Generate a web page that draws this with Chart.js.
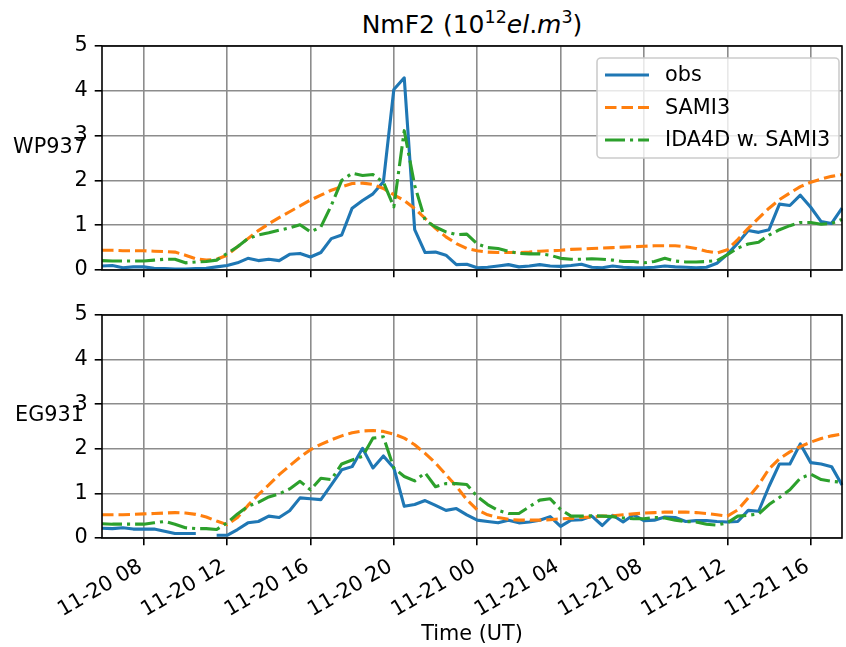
<!DOCTYPE html>
<html>
<head>
<meta charset="utf-8">
<script src="https://cdn.jsdelivr.net/npm/chart.js@4.4.0/dist/chart.umd.min.js"></script>
<style>
  body { margin: 0; background: #fff; }
  #wrap { position: relative; width: 846px; height: 647px; font-family: "DejaVu Sans", sans-serif; color: #000; }
  canvas { position: absolute; left: 0; }
  #topCanvas { top: 0; }
  #bottomCanvas { top: 290px; }
  .ylbl { position: absolute; left: 0; width: 99px; text-align: center; font-size: 20.8px; line-height: 24.2px; white-space: nowrap; }
  #title { position: absolute; left: 222px; width: 500px; top: 10px; text-align: center; font-size: 25px; line-height: 30px; white-space: nowrap; }
  #title sup { font-size: 70%; position: relative; top: -0.55em; vertical-align: baseline; line-height: 0; }
</style>
</head>
<body>
<div id="wrap">
  <div id="title">NmF2 (10<sup>12</sup><i>el</i>.<i>m</i><sup>3</sup>)</div>
  <canvas id="topCanvas" width="846" height="290"></canvas>
  <canvas id="bottomCanvas" width="846" height="357"></canvas>
  <div class="ylbl" style="top:134px">WP937</div>
  <div class="ylbl" style="top:402px">EG931</div>
</div>
<script>
// half-hourly samples, 11-20 06:00 .. 11-21 17:30
const timeLabels = [];
for (let i = 0; i < 72; i++) {
  const h = 6 + i * 0.5;
  const day = h >= 24 ? "11-21" : "11-20";
  const hh = String(Math.floor(h % 24)).padStart(2, "0");
  timeLabels.push(day + " " + hh + (i % 2 ? ":30" : ":00"));
}
const tickLabels = ["11-20 08", "11-20 12", "11-20 16", "11-20 20", "11-21 00",
                    "11-21 04", "11-21 08", "11-21 12", "11-21 16"];

// WP937
const wpObs = [
  0.09, 0.10, 0.05, 0.07, 0.07, 0.04, 0.03, 0.02, 0.02, 0.03, 0.04, 0.07,
  0.10, 0.16, 0.26, 0.21, 0.24, 0.21, 0.35, 0.37, 0.29, 0.39, 0.70, 0.78,
  1.38, 1.55, 1.70, 1.97, 4.03, 4.29, 0.90, 0.39, 0.40, 0.33, 0.12, 0.13,
  0.05, 0.06, 0.09, 0.12, 0.07, 0.09, 0.12, 0.09, 0.08, 0.10, 0.13, 0.06,
  0.05, 0.09, 0.06, 0.05, 0.05, 0.06, 0.09, 0.07, 0.06, 0.05, 0.06, 0.15,
  0.35, 0.60, 0.88, 0.84, 0.90, 1.47, 1.44, 1.67, 1.40, 1.08, 1.04, 1.38
];
const wpSami = [
  0.44, 0.44, 0.43, 0.43, 0.43, 0.42, 0.41, 0.40, 0.33, 0.25, 0.22, 0.24,
  0.33, 0.52, 0.70, 0.88, 1.03, 1.17, 1.30, 1.43, 1.56, 1.67, 1.78, 1.86,
  1.93, 1.94, 1.91, 1.82, 1.68, 1.55, 1.37, 1.15, 0.93, 0.74, 0.59, 0.48,
  0.43, 0.40, 0.39, 0.39, 0.39, 0.40, 0.42, 0.43, 0.44, 0.46, 0.47, 0.48,
  0.49, 0.50, 0.51, 0.52, 0.53, 0.54, 0.54, 0.54, 0.52, 0.48, 0.42, 0.38,
  0.45, 0.68, 0.93, 1.16, 1.38, 1.57, 1.72, 1.86, 1.96, 2.03, 2.09, 2.13
];
const wpIda = [
  0.21, 0.20, 0.20, 0.20, 0.20, 0.22, 0.24, 0.24, 0.16, 0.18, 0.19, 0.22,
  0.37, 0.52, 0.70, 0.78, 0.83, 0.89, 0.94, 1.01, 0.85, 0.96, 1.44, 2.00,
  2.16, 2.11, 2.13, 1.96, 1.41, 3.11, 1.89, 1.11, 0.96, 0.85, 0.79, 0.80,
  0.58, 0.50, 0.48, 0.42, 0.37, 0.36, 0.36, 0.33, 0.26, 0.24, 0.24, 0.25,
  0.24, 0.22, 0.19, 0.19, 0.16, 0.19, 0.26, 0.20, 0.18, 0.18, 0.19, 0.21,
  0.34, 0.49, 0.58, 0.62, 0.78, 0.90, 0.99, 1.06, 1.06, 1.02, 1.04, 1.13
];

// EG931
const egObs = [
  0.22, 0.21, 0.23, 0.20, 0.20, 0.20, 0.15, 0.10, 0.10, 0.10, null, 0.06,
  0.06, 0.19, 0.34, 0.37, 0.49, 0.46, 0.61, 0.90, 0.88, 0.86, 1.19, 1.53,
  1.60, 2.01, 1.57, 1.84, 1.57, 0.71, 0.75, 0.84, 0.73, 0.62, 0.66, 0.52,
  0.40, 0.37, 0.34, 0.40, 0.34, 0.36, 0.40, 0.48, 0.26, 0.40, 0.41, 0.49,
  0.28, 0.51, 0.36, 0.52, 0.39, 0.40, 0.47, 0.46, 0.37, 0.39, 0.39, 0.37,
  0.36, 0.37, 0.62, 0.60, 1.16, 1.66, 1.66, 2.11, 1.69, 1.66, 1.60, 1.19
];
const egSami = [
  0.52, 0.52, 0.52, 0.53, 0.54, 0.55, 0.56, 0.57, 0.56, 0.53, 0.47, 0.38,
  0.30, 0.46, 0.73, 0.97, 1.19, 1.42, 1.62, 1.81, 1.98, 2.10, 2.20, 2.29,
  2.36, 2.40, 2.41, 2.39, 2.33, 2.24, 2.09, 1.90, 1.68, 1.42, 1.16, 0.86,
  0.63, 0.52, 0.46, 0.42, 0.40, 0.40, 0.40, 0.41, 0.43, 0.44, 0.46, 0.47,
  0.49, 0.50, 0.52, 0.54, 0.56, 0.57, 0.58, 0.58, 0.58, 0.57, 0.55, 0.52,
  0.49, 0.63, 0.90, 1.19, 1.55, 1.78, 1.93, 2.05, 2.15, 2.23, 2.29, 2.33
];
const egIda = [
  0.32, 0.31, 0.31, 0.31, 0.31, 0.34, 0.37, 0.31, 0.23, 0.21, 0.21, 0.19,
  0.34, 0.54, 0.71, 0.80, 0.92, 0.99, 1.10, 1.27, 1.08, 1.34, 1.31, 1.66,
  1.75, 1.83, 2.24, 2.27, 1.57, 1.38, 1.28, 1.46, 1.15, 1.22, 1.22, 1.20,
  0.93, 0.75, 0.62, 0.55, 0.55, 0.70, 0.85, 0.88, 0.64, 0.49, 0.49, 0.50,
  0.49, 0.48, 0.45, 0.43, 0.43, 0.46, 0.45, 0.40, 0.37, 0.36, 0.31, 0.29,
  0.34, 0.49, 0.51, 0.54, 0.75, 0.91, 1.08, 1.34, 1.43, 1.31, 1.27, 1.25
];

Chart.defaults.font.family = "DejaVu Sans";
Chart.defaults.color = "#000";

const LW = 3.1;
const gridColor = "#8c8c8c";
const fontSize = 20.8;

function makeSets(obs, sami, ida) {
  return [
    { label: "obs", data: obs, borderColor: "#1f77b4", borderDash: [], order: 3 },
    { label: "SAMI3", data: sami, borderColor: "#ff7f0e", borderDash: [11.5, 5], order: 2 },
    { label: "IDA4D w. SAMI3", data: ida, borderColor: "#2ca02c", borderDash: [20, 5, 3.1, 5], order: 1 }
  ].map(d => ({
    ...d,
    borderWidth: LW,
    pointRadius: 0,
    tension: 0,
    fill: false,
    spanGaps: false,
    borderJoinStyle: "round"
  }));
}

function scalesFor(showLabels) {
  const grid = { color: gridColor, lineWidth: 1.6, tickColor: "#000", tickWidth: 1.6, tickLength: 7.3, drawTicks: true };
  return {
    x: {
      type: "category",
      offset: false,
      grid: grid,
      border: { display: false },
      ticks: {
        display: showLabels, autoSkip: false, minRotation: 30, maxRotation: 30,
        padding: 9, labelOffset: -3, font: { size: fontSize },
        callback: v => timeLabels[v].slice(0, 8)
      },
      afterBuildTicks: s => {
        s.ticks = s.ticks.filter(t => {
          const lab = timeLabels[t.value];
          return lab.endsWith(":00") && tickLabels.includes(lab.slice(0, 8));
        });
      },
      afterFit: s => { s.height = showLabels ? 109 : 20; },
      title: { display: showLabels, text: "Time (UT)", font: { size: fontSize }, padding: { top: 0, bottom: 0 } }
    },
    y: {
      min: 0, max: 5,
      grid: grid,
      border: { display: false },
      ticks: { stepSize: 1, padding: 7, font: { size: fontSize } },
      afterFit: s => { s.width = 102; }
    }
  };
}

// box around the plot area, like the axes spines
const frame = {
  id: "frame",
  afterDatasetsDraw(chart) {
    const { ctx, chartArea: a } = chart;
    ctx.save();
    ctx.strokeStyle = "#000";
    ctx.lineWidth = 1.6;
    ctx.strokeRect(a.left, a.top, a.right - a.left, a.bottom - a.top);
    ctx.restore();
  }
};

// matplotlib-like legend in the upper right corner
const legendBox = {
  id: "legendBox",
  afterDraw(chart, args, opts) {
    if (!opts.show) return;
    const ctx = chart.ctx;
    const x0 = 597, y0 = 58, w = 242, h = 100, r = 4;
    ctx.save();
    ctx.beginPath();
    ctx.roundRect(x0, y0, w, h, r);
    ctx.fillStyle = "rgba(255,255,255,0.8)";
    ctx.fill();
    ctx.strokeStyle = "#cccccc";
    ctx.lineWidth = 1.6;
    ctx.stroke();
    ctx.font = fontSize + "px 'DejaVu Sans'";
    ctx.textBaseline = "middle";
    ctx.fillStyle = "#000";
    chart.data.datasets.forEach((ds, i) => {
      const y = 75 + i * 32.5;
      ctx.beginPath();
      ctx.setLineDash(ds.borderDash);
      ctx.strokeStyle = ds.borderColor;
      ctx.lineWidth = ds.borderWidth;
      ctx.moveTo(605, y);
      ctx.lineTo(649, y);
      ctx.stroke();
      ctx.setLineDash([]);
      ctx.fillText(ds.label, 665, y + 1);
    });
    ctx.restore();
  }
};

function makeChart(id, sets, showLabels, pad) {
  return new Chart(document.getElementById(id), {
    type: "line",
    data: { labels: timeLabels, datasets: sets },
    options: {
      responsive: false,
      animation: false,
      layout: { padding: pad },
      scales: scalesFor(showLabels),
      plugins: {
        legend: { display: false },
        tooltip: { enabled: false },
        legendBox: { show: !showLabels }
      }
    },
    plugins: [frame, legendBox]
  });
}

makeChart("topCanvas", makeSets(wpObs, wpSami, wpIda), false, { left: 0, top: 46, right: 4, bottom: 0 });
makeChart("bottomCanvas", makeSets(egObs, egSami, egIda), true, { left: 0, top: 25, right: 4, bottom: 0 });
</script>
</body>
</html>
